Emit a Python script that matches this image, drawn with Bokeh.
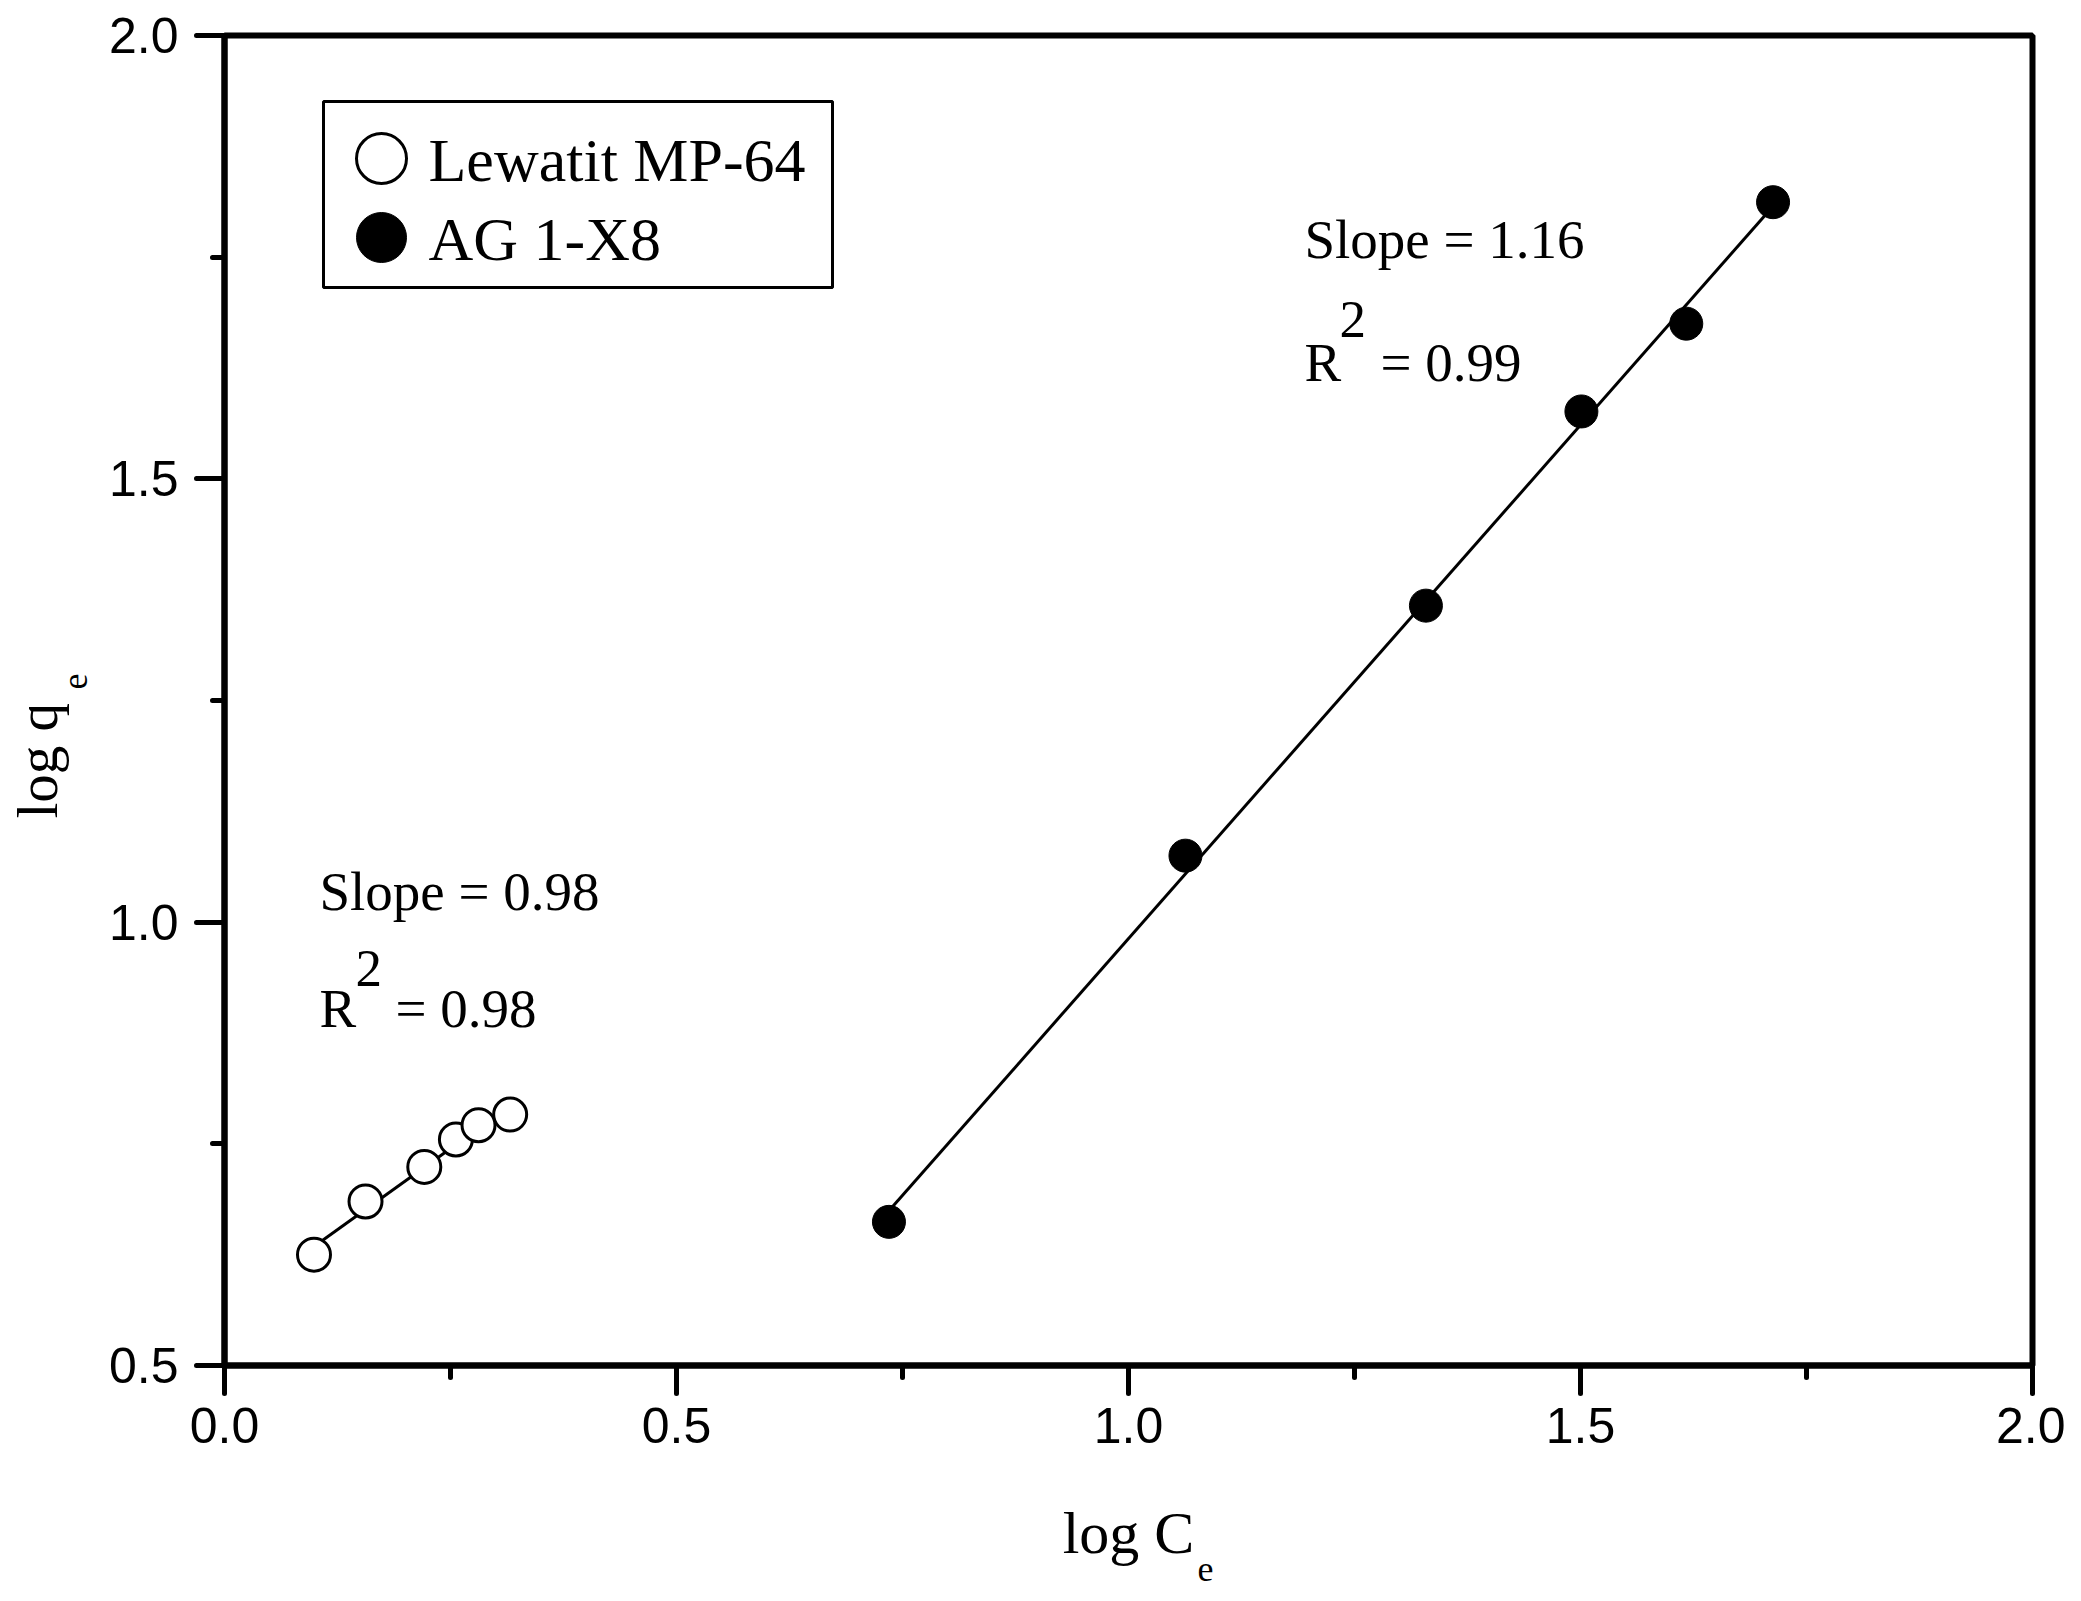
import numpy as np
from bokeh.plotting import figure
from bokeh.models import FixedTicker, Label, Range1d, Title
from bokeh.embed import file_html
from bokeh.resources import INLINE

# ---- data ----
lew_x = [0.099, 0.156, 0.221, 0.256, 0.281, 0.316]
lew_y = [0.625, 0.685, 0.724, 0.755, 0.771, 0.783]
ag_x = [0.735, 1.063, 1.329, 1.501, 1.617, 1.713]
ag_y = [0.662, 1.075, 1.357, 1.576, 1.675, 1.812]

series_names = ["Lewatit MP-64", "AG 1-X8"]
x_ticks = [0.0, 0.5, 1.0, 1.5, 2.0]
x_tick_labels = ["0.0", "0.5", "1.0", "1.5", "2.0"]
x_minor = [0.25, 0.75, 1.25, 1.75]
y_ticks = [0.5, 1.0, 1.5, 2.0]
y_tick_labels = ["0.5", "1.0", "1.5", "2.0"]
y_minor = [0.75, 1.25, 1.75]

lew_fit_text = ["Slope = 0.98", "= 0.98"]
ag_fit_text = ["Slope = 1.16", "= 0.99"]

# ---- layout (pixels of the reference picture) ----
FRAME_L, FRAME_R, FRAME_T, FRAME_B = 224, 2032, 35, 1365
X0, X1, Y0, Y1 = 0.0, 2.0, 0.5, 2.0


def dx(px):
    return X0 + (px - FRAME_L) * (X1 - X0) / (FRAME_R - FRAME_L)


def dy(py):
    return Y0 + (FRAME_B - py) * (Y1 - Y0) / (FRAME_B - FRAME_T)


W, H = 2065, 1595
mb_left = FRAME_L
mb_top = FRAME_T
mb_right = W - mb_left - (FRAME_R - FRAME_L)
mb_bottom = H - mb_top - (FRAME_B - FRAME_T)

p = figure(width=W, height=H, x_range=Range1d(X0, X1), y_range=Range1d(Y0, Y1),
           output_backend="svg", toolbar_location=None,
           min_border_left=mb_left, min_border_right=mb_right,
           min_border_top=mb_top, min_border_bottom=mb_bottom)
p.xgrid.visible = False
p.ygrid.visible = False
p.background_fill_color = "white"
p.border_fill_color = "white"
p.outline_line_color = "black"
p.outline_line_width = 6

SERIF = "Liberation Serif"

for ax, ticks, minor, labels, so in ((p.xaxis[0], x_ticks, x_minor, x_tick_labels, 14),
                                     (p.yaxis[0], y_ticks, y_minor, y_tick_labels, 18)):
    ax.ticker = FixedTicker(ticks=ticks, minor_ticks=minor)
    ax.major_label_overrides = {t: l for t, l in zip(ticks, labels)}
    ax.axis_line_width = 6
    ax.axis_line_color = "black"
    ax.major_tick_in = 0
    ax.major_tick_out = 28
    ax.minor_tick_in = 0
    ax.minor_tick_out = 12
    ax.major_tick_line_width = 5
    ax.minor_tick_line_width = 5
    ax.major_tick_line_cap = "round"
    ax.minor_tick_line_cap = "round"
    ax.major_label_text_font = "Liberation Sans"
    ax.major_label_text_font_size = "50px"
    ax.major_label_text_color = "black"
    ax.major_label_standoff = so

# x-axis title: main part as the axis label, subscript as a title below it
p.xaxis[0].axis_label = "log C"
p.xaxis[0].axis_label_text_font = SERIF
p.xaxis[0].axis_label_text_font_size = "60px"
p.xaxis[0].axis_label_text_font_style = "normal"
p.xaxis[0].axis_label_text_color = "black"
p.xaxis[0].axis_label_standoff = 54
p.add_layout(Title(text="e", align="left", offset=973, vertical_align="top",
                   standoff=-24, text_font=SERIF, text_font_size="36px",
                   text_font_style="normal", text_color="black"), "below")

# y-axis title: subscript panel next to the axis, main text beyond it
p.add_layout(Title(text="e", align="left", offset=FRAME_B - 689, vertical_align="top",
                   standoff=34, text_font=SERIF, text_font_size="36px",
                   text_font_style="normal", text_color="black"), "left")
p.add_layout(Title(text="log q", align="left", offset=FRAME_B - 818, vertical_align="bottom",
                   standoff=-46, text_font=SERIF, text_font_size="57px",
                   text_font_style="normal", text_color="black"), "left")

# ---- fit lines ----
for xs, ys in ((lew_x, lew_y), (ag_x, ag_y)):
    m, b = np.polyfit(xs, ys, 1)
    fx = np.array([min(xs), max(xs)])
    p.line(fx, m * fx + b, line_color="black", line_width=3)

# ---- points ----
p.scatter(lew_x, lew_y, size=33, marker="circle", fill_color="white",
          line_color="black", line_width=3)
p.scatter(ag_x, ag_y, size=33, marker="circle", fill_color="black",
          line_color="black", line_width=1)


def lab(px, py, text, size):
    p.add_layout(Label(x=dx(px), y=dy(py), text=text, text_font=SERIF,
                       text_font_size="%dpx" % size, text_color="black",
                       text_baseline="alphabetic", text_align="left",
                       y_offset=round(0.37 * size)))


# ---- annotations ----
lab(319, 911, lew_fit_text[0], 55)
lab(319, 1028, "R", 55)
lab(355, 988, "2", 53)
lab(395, 1028, lew_fit_text[1], 55)

lab(1304, 259, ag_fit_text[0], 55)
lab(1304, 382, "R", 55)
lab(1339, 339, "2", 53)
lab(1380, 382, ag_fit_text[1], 55)

# ---- legend ----
p.quad(left=[dx(323)], right=[dx(832)], top=[dy(101)], bottom=[dy(287)],
       fill_color="white", line_color="black", line_width=3)
p.scatter([dx(381)], [dy(158)], size=50, marker="circle", fill_color="white",
          line_color="black", line_width=3)
p.scatter([dx(381)], [dy(237)], size=50, marker="circle", fill_color="black",
          line_color="black", line_width=1)
lab(428, 182, series_names[0], 62)
lab(428, 261, series_names[1], 62)

open("out.html", "w").write(file_html(p, INLINE))
